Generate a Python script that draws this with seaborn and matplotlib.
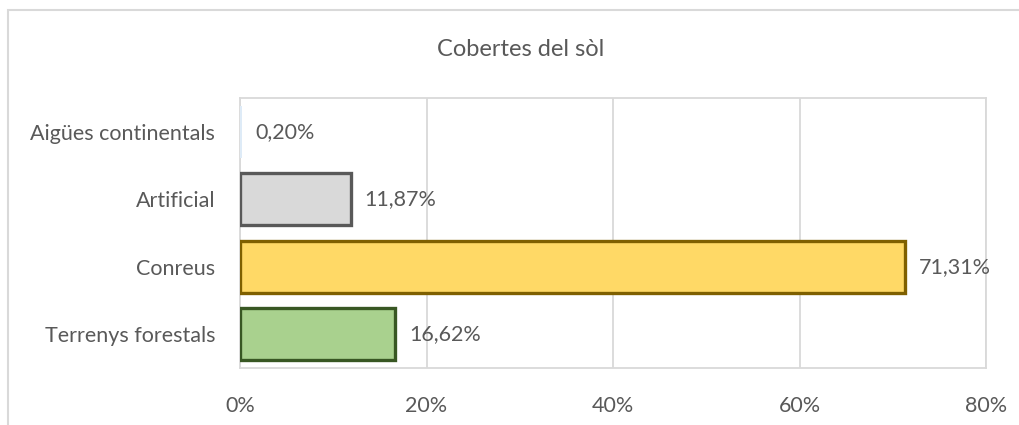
import pandas as pd
import matplotlib
matplotlib.use("Agg")
import matplotlib.pyplot as plt
import seaborn as sns
from matplotlib.patches import Rectangle

# Data
categories = ["Aigües continentals", "Artificial", "Conreus", "Terrenys forestals"]
values = [0.20, 11.87, 71.31, 16.62]
labels = ["0,20%", "11,87%", "71,31%", "16,62%"]
fills = ["#DEEBF7", "#D9D9D9", "#FFD966", "#A9D18E"]
edges = ["none", "#595959", "#7F6000", "#385723"]
xticks = [0, 20, 40, 60, 80]

df = pd.DataFrame({"cat": categories, "val": values})

sns.set_style("white")
plt.rcParams["font.family"] = ["Lato", "DejaVu Sans"]
txt = "#595959"
grid = "#D9D9D9"
fs = 15.5

fig = plt.figure(figsize=(10.2, 4.25), dpi=100)
ax = fig.add_axes([0.2353, 0.1341, 0.7314, 0.6353])

sns.barplot(data=df, y="cat", x="val", hue="cat", palette=fills, order=categories,
            orient="h", width=0.77, saturation=1, legend=False, ax=ax, zorder=3)
for p, ec in zip(ax.patches, edges):
    p.set_edgecolor(ec)
    p.set_linewidth(2.4)

for cont, lab in zip(ax.containers, labels):
    ax.bar_label(cont, labels=[lab], padding=10, fontsize=fs, color=txt)

ax.set_xlim(0, 80)
ax.set_ylim(3.5, -0.5)
ax.set_xticks(xticks)
ax.set_xticklabels([f"{t}%" for t in xticks])
ax.xaxis.grid(True, color=grid, linewidth=1.3, zorder=0)
ax.set_axisbelow(True)
ax.tick_params(axis="x", length=0, pad=20, labelsize=fs, colors=txt)
ax.tick_params(axis="y", which="major", length=0, pad=18, labelsize=fs, colors=txt)
ax.set_yticks([-0.5, 0.5, 1.5, 2.5, 3.5], minor=True)
ax.tick_params(axis="y", which="minor", length=8, width=1.3, color=grid)
ax.set_xlabel("")
ax.set_ylabel("")
for s in ax.spines.values():
    s.set_color(grid)
    s.set_linewidth(1.3)

fig.text(521 / 1020, 1 - 50 / 425, "Cobertes del sòl", ha="center", va="center",
         fontsize=17, color=txt)

# outer chart border
fig.patches.append(Rectangle((8 / 1020, -0.1), 1.2, 1 - 10 / 425 + 0.1,
                             transform=fig.transFigure, fill=False,
                             edgecolor="#D9D9D9", linewidth=1.5))

fig.savefig("out.png", dpi=100)
